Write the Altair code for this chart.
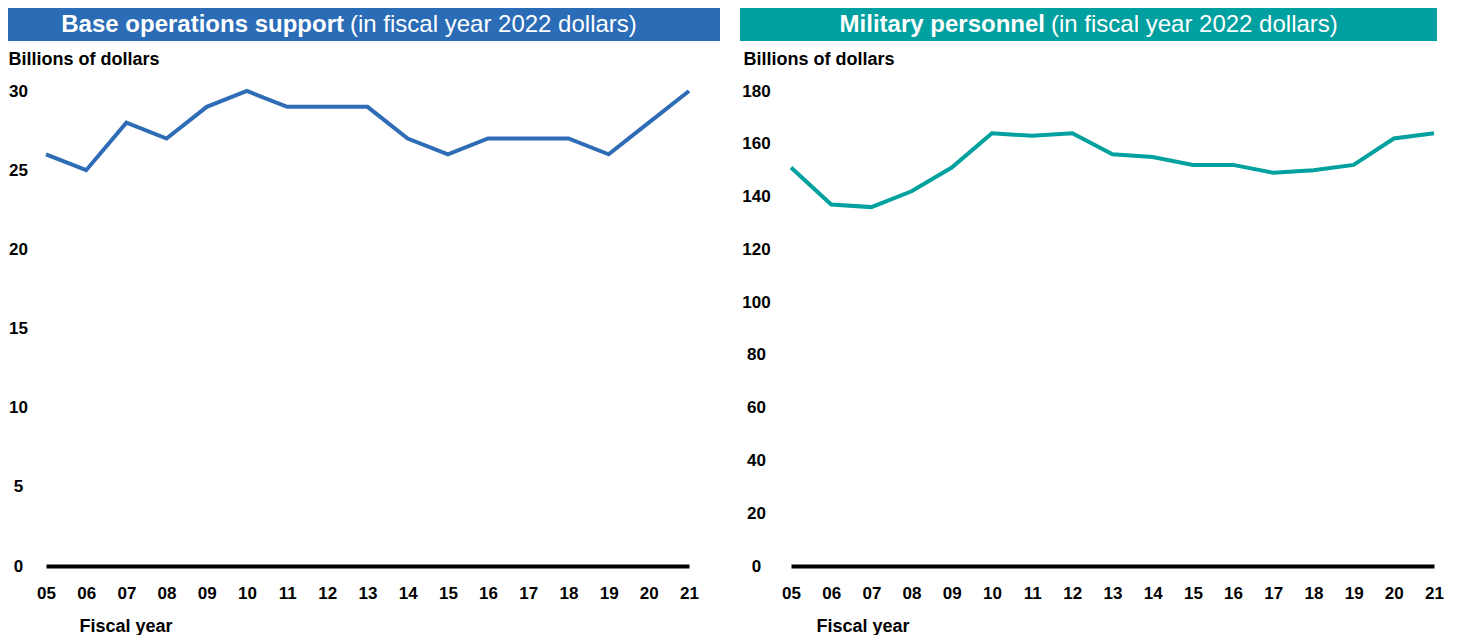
import altair as alt
import pandas as pd

years = list(range(5, 22))
base_ops = [26, 25, 28, 27, 29, 30, 29, 29, 29, 27, 26, 27, 27, 27, 26, 28, 30]
mil_pers = [151, 137, 136, 142, 151, 164, 163, 164, 156, 155, 152, 152, 149, 150, 152, 162, 164]

left_bold = "Base operations support"
right_bold = "Military personnel"
sub = "(in fiscal year 2022 dollars)"
y_title = "Billions of dollars"
x_title = "Fiscal year"

FONT = "Liberation Sans"
W, H = 643, 475


def panel(values, color, bar_color, ymax, ystep, bold, bar_x, bar_x2, split, lab_pad, ytx, xtx):
    df = pd.DataFrame({"year": years, "value": values})
    xax = alt.Axis(
        values=years,
        labelExpr="datum.value < 10 ? '0' + datum.value : '' + datum.value",
        labelFont=FONT, labelFontSize=17, labelFontWeight="bold", labelColor="black",
        labelPadding=19, labelFlush=False, labelOverlap=False,
        ticks=False, tickSize=0, grid=False,
        domain=True, domainColor="black", domainWidth=4,
        title=x_title, titleFont=FONT, titleFontSize=18, titleFontWeight="bold",
        titleColor="black", titleX=xtx, titleY=60, titleAlign="left",
        titleBaseline="middle", titleAnchor="start",
    )
    yax = alt.Axis(
        values=list(range(0, ymax + 1, ystep)),
        labelFont=FONT, labelFontSize=17, labelFontWeight="bold", labelColor="black",
        labelAlign="center", labelPadding=lab_pad, labelFlush=False, labelOverlap=False,
        ticks=False, tickSize=0, grid=False, domain=False,
        title=y_title, titleFont=FONT, titleFontSize=18, titleFontWeight="bold",
        titleColor="black", titleAngle=0, titleX=ytx, titleY=-32,
        titleAlign="left", titleBaseline="middle", titleAnchor="start",
    )
    line = alt.Chart(df).mark_line(color=color, strokeWidth=4).encode(
        x=alt.X("year:Q", scale=alt.Scale(domain=[5, 21], nice=False, zero=False), axis=xax),
        y=alt.Y("value:Q", scale=alt.Scale(domain=[0, ymax], nice=False), axis=yax),
    )
    one = alt.Data(values=[{"a": 1}])
    bar = alt.Chart(one).mark_rect(color=bar_color).encode(
        x=alt.value(bar_x), x2=alt.value(bar_x2), y=alt.value(-85), y2=alt.value(-50)
    )
    t1 = alt.Chart(one).mark_text(
        font=FONT, fontSize=24, fontWeight="bold", color="white",
        align="right", baseline="middle"
    ).encode(x=alt.value(split), y=alt.value(-66), text=alt.value(bold))
    t2 = alt.Chart(one).mark_text(
        font=FONT, fontSize=24, fontWeight="normal", color="white",
        align="left", baseline="middle"
    ).encode(x=alt.value(split + 6), y=alt.value(-66), text=alt.value(sub))
    return alt.layer(bar, t1, t2, line).properties(width=W, height=H)


left = panel(base_ops, "#2E6DB5", "#2B6CB7", 30, 5, left_bold, -40, 674, 298, 28, -38, 33)
right = panel(mil_pers, "#00A19E", "#00A0A0", 180, 20, right_bold, -51, 646, 254, 35, -48, 25)

chart = alt.hconcat(left, right, spacing=20).properties(
    padding={"left": -2, "top": -2, "right": 0, "bottom": 0},
    background="white",
).configure_view(stroke="transparent", strokeWidth=0)

chart.save("out.html", embed_options={"renderer": "svg", "actions": False})
